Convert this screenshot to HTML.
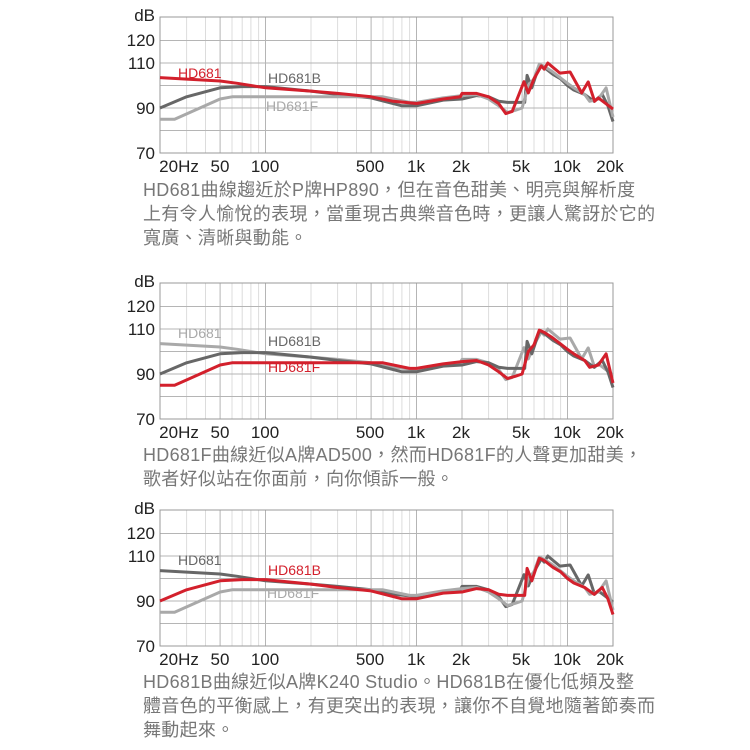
<!DOCTYPE html>
<html><head><meta charset="utf-8"><style>
body{margin:0;background:#fff;width:750px;height:750px;overflow:hidden}
svg{position:absolute;left:0;top:0}
.cap{position:absolute;left:143px;font-family:"Liberation Sans","Noto Sans CJK TC",sans-serif;font-size:18px;color:#777;line-height:24px;letter-spacing:0.3px;white-space:nowrap}
</style></head><body>
<svg id="s" width="750" height="750" xmlns="http://www.w3.org/2000/svg"></svg>
<div class="cap" style="top:178px">HD681曲線趨近於P牌HP890，但在音色甜美、明亮與解析度<br>上有令人愉悅的表現，當重現古典樂音色時，更讓人驚訝於它的<br>寬廣、清晰與動能。</div>
<div class="cap" style="top:443px">HD681F曲線近似A牌AD500，然而HD681F的人聲更加甜美，<br>歌者好似站在你面前，向你傾訴一般。</div>
<div class="cap" style="top:670px">HD681B曲線近似A牌K240 Studio。HD681B在優化低頻及整<br>體音色的平衡感上，有更突出的表現，讓你不自覺地隨著節奏而<br>舞動起來。</div>
<script>
const S=document.getElementById('s');let h='';
const X0=160,PD=151;
function fx(f){return X0+Math.log10(f/20)*PD}
const A=[[20,103.5],[50,102],[65,101],[100,99],[200,97.5],[300,96.5],[500,95],[700,93],[1000,92],[1500,94],[1950,95],[2000,96.5],[2500,96.5],[3000,95],[3500,92],[3900,87.5],[4300,88.5],[5150,101.7],[5500,96.7],[6000,103],[6700,108.7],[7000,107.3],[7400,110],[8900,105.5],[10400,106],[12400,96.7],[13700,101.6],[15100,93],[16000,94.5],[20000,89.5]];
const B=[[20,90],[30,95],[50,99],[70,99.5],[100,99.5],[200,97.5],[300,96],[500,94.5],[800,91],[1000,91],[1500,93.5],[2000,94],[2500,95.5],[3000,95],[3500,93],[4000,92.5],[5200,92.5],[5400,104.5],[5800,99],[6500,109],[7000,108],[8000,105],[9000,103],[10000,100],[11000,98],[13000,96],[15000,93],[17000,96],[18500,91],[20000,84]];
const F=[[20,85],[25,85],[50,94],[60,95],[100,95],[300,95],[600,95],[900,92.5],[1000,92.5],[1500,94.5],[2000,95.5],[2500,96],[3000,94],[3500,91],[4000,88],[4500,89],[5000,90],[5500,100],[6000,103],[6500,109.5],[7000,108.5],[8000,106],[10000,101],[11000,99],[13000,96],[14000,93],[16000,94],[18000,99],[20000,86]];
const RED='#d3202c',DG='#676767',LG='#a9a9a9';
function chart(o,ca,cb,cf,top,labels){
 const fy=d=>o+63+(110-d)*2.25;
 // grid
 const vs=[20,30,40,50,60,70,80,90,100,200,300,400,500,600,700,800,900,1000,2000,3000,4000,5000,6000,7000,8000,9000,10000,20000];
 const maj=[20,50,100,500,1000,2000,5000,10000,20000];
 vs.forEach(f=>{const x=fx(f).toFixed(1);h+=`<line x1="${x}" y1="${o+17}" x2="${x}" y2="${o+153}" stroke="${maj.includes(f)?'#b5b5b5':'#dcdcdc'}" stroke-width="1"/>`});
 [120,110,100,90,80].forEach(d=>{const y=fy(d);h+=`<line x1="160" y1="${y}" x2="613" y2="${y}" stroke="#b5b5b5" stroke-width="1"/>`});
 h+=`<rect x="160" y="${o+17}" width="453" height="136" fill="none" stroke="#999" stroke-width="1"/>`;
 const T=(x,y,t,a,c,s)=>h+=`<text x="${x}" y="${y}" text-anchor="${a}" fill="${c}" font-size="${s}" font-family="Liberation Sans,sans-serif">${t}</text>`;
 T(155,o+21,'dB','end','#222',17);
 [[120,40],[110,63],[90,108],[70,153]].forEach(([d,y])=>T(155,o+y+6,d,'end','#222',17));
 [['20Hz',179],['50',220],['100',265],['500',370],['1k',416],['2k',461],['5k',521],['10k',567],['20k',610]].forEach(([t,x])=>T(x,o+172,t,'middle','#222',17));
 const line=(d,c)=>h+=`<polyline fill="none" stroke="${c}" stroke-width="3" stroke-linejoin="round" points="${d.map(p=>fx(p[0]).toFixed(1)+','+fy(p[1]).toFixed(1)).join(' ')}"/>`;
 const ser={A:[A,ca],B:[B,cb],F:[F,cf]};
 Object.keys(ser).filter(k=>k!==top).forEach(k=>line(...ser[k]));line(...ser[top]);
 labels.forEach(([t,x,y,c])=>T(x,o+y,t,'start',c,14));
}
chart(0,RED,DG,LG,'A',[['HD681',178,78,RED],['HD681B',268,83,DG],['HD681F',266,111,LG]]);
chart(266,LG,DG,RED,'F',[['HD681',178,72,LG],['HD681B',268,80,DG],['HD681F',268,106,RED]]);
chart(493,DG,RED,LG,'B',[['HD681',178,72,DG],['HD681B',268,82,RED],['HD681F',267,105,LG]]);
S.innerHTML=h;
</script>
</body></html>
